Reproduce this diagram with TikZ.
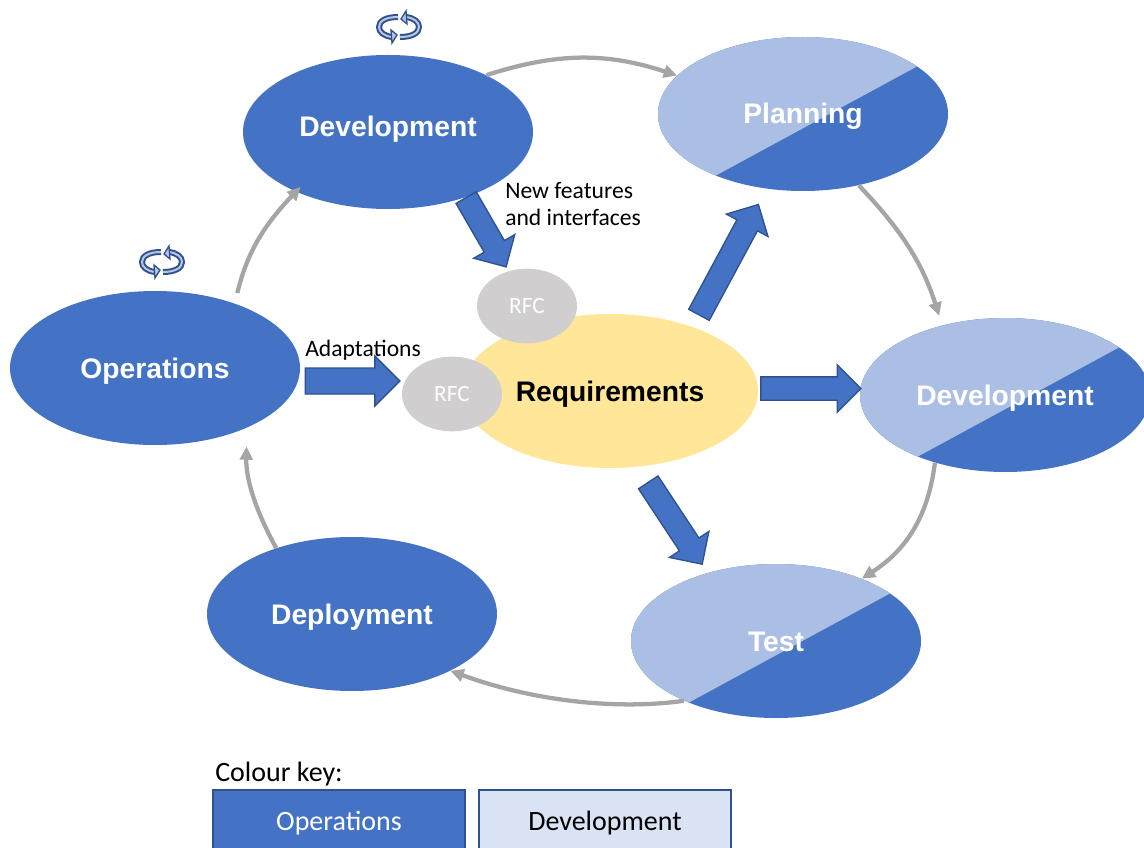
\documentclass[tikz,border=0pt]{standalone}
\usepackage{fontspec}
\setmainfont{Carlito}
\newfontfamily\labelfont{Liberation Sans}
\usetikzlibrary{arrows.meta,shapes.geometric,shapes.arrows}
\definecolor{opsblue}{HTML}{4472C4}
\definecolor{opsedge}{HTML}{2F528F}
\definecolor{devblue}{HTML}{ABBFE5}
\definecolor{keyblue}{HTML}{DAE3F3}
\definecolor{reqyellow}{HTML}{FFE699}
\definecolor{rfcgrey}{HTML}{D0CECE}
\definecolor{loopgrey}{HTML}{A5A5A5}
\tikzset{
	oval/.style={ellipse, fill=opsblue, inner sep=0, minimum width=217.5pt, minimum height=115.5pt, text=white, text height=15pt, text depth=0pt, font=\labelfont\bfseries\fontsize{21.2}{24}\selectfont},
	splitoval/.style={oval, path picture={
		\fill[devblue] ([shift={(-88,62)}]path picture bounding box.center) -- ([shift={(113,-47)}]path picture bounding box.center) -- ([shift={(160,-100)}]path picture bounding box.center) -- ([shift={(-160,-100)}]path picture bounding box.center) -- ([shift={(-160,62)}]path picture bounding box.center) -- cycle;
	}},
	rfc/.style={ellipse, fill=rfcgrey, inner sep=0, minimum width=75pt, minimum height=56pt, text=white, font=\fontsize{17.5}{20}\selectfont},
	blockarrow/.style={single arrow, fill=opsblue, draw=opsedge, line width=1pt, inner xsep=0, inner ysep=8.25pt, single arrow head extend=9pt},
	cyclearrow/.style={-{Triangle[length=10pt,width=9.5pt]}, draw=loopgrey, line width=3.2pt},
	note/.style={font=\fontsize{17.7}{20.5}\selectfont, inner sep=0},
	keybox/.style={rectangle, draw=opsedge, line width=1.5pt, minimum width=188.5pt, minimum height=49pt, inner sep=0, font=\fontsize{21}{24}\selectfont},
	cycleicon/.pic={
		\foreach \r in {0,180}{
			\begin{scope}[rotate=\r]
				\draw[opsedge, line width=4.5pt] (-1,-10) .. controls (-13,-10) and (-20,-6) .. (-20,0) .. controls (-20,5) and (-15,9) .. (-7,10);
				\draw[keyblue!80!opsedge, line width=1.5pt] (-1,-10) .. controls (-13,-10) and (-20,-6) .. (-20,0) .. controls (-20,5) and (-15,9) .. (-7,10);
				\fill[keyblue!80!opsedge, draw=opsedge, line width=1pt] (-8,3) -- (-2,8) -- (-7,16) -- cycle;
			\end{scope}
		}
	}
}

\begin{document}
\begin{tikzpicture}[x=0.75pt, y=-0.75pt]
	\useasboundingbox (0,0) rectangle (1144,848);
	\clip (0,0) rectangle (1144,848);

	%%%%% phases %%%%%
	\node[oval, label={[oval, fill=none, minimum size=0pt, yshift=3.75pt]center:Development}] (devtop) at (388,132) {};
	\node[splitoval] (planning) at (803,114) {Planning};
	\node[splitoval] (devright) at (1005,395) {Development};
	\node[splitoval] (test) at (776,641) {Test};
	\node[oval] (deployment) at (352,614) {Deployment};
	\node[oval] (operations) at (155,368) {Operations};

	%%%%% centre %%%%%
	\node[ellipse, fill=reqyellow, inner sep=0, minimum width=222pt, minimum height=115.5pt, text height=15pt, text depth=0pt, font=\labelfont\bfseries\fontsize{21.2}{24}\selectfont] (requirements) at (610,391) {Requirements};
	\node[rfc] (rfctop) at (527,306) {RFC};
	\node[rfc] (rfcleft) at (452,394) {RFC};

	%%%%% outer cycle %%%%%
	\draw[cyclearrow] (devtop.30.5) to[bend left=18] (planning.163);
	\draw[cyclearrow, shorten >=7.5pt] (planning.-52) to[bend left=13] (devright.132);
	\draw[cyclearrow] (devright.224) to[bend left=25] (test.36);
	\draw[cyclearrow] (test.213) to[out=188, in=-20, out looseness=0.7] (deployment.-30);
	\draw[cyclearrow, shorten >=14pt] (deployment.139) to[bend left=15] (operations.-33);
	\draw[cyclearrow, shorten <=8pt, shorten >=-5pt] (operations.39) to[bend left=15] (devtop.213);

	%%%%% block arrows %%%%%
	\node[blockarrow, inner ysep=9.25pt, minimum height=71pt] (adaptarrow) at (346,381) {};
	\node[blockarrow, minimum height=60pt, rotate=-60] (newarrow) at (483.2,227.2) {};
	\node[blockarrow, minimum height=94pt, rotate=61.7] (planarrow) at (725.9,264.8) {};
	\node[blockarrow, minimum height=75pt] (devarrow) at (805,388.5) {};
	\node[blockarrow, minimum height=73.5pt, rotate=-56.6] (testarrow) at (672,518.4) {};

	%%%%% labels %%%%%
	\node[note, align=left, anchor=north west] (newlabel) at (505,182) {New features\\and interfaces};
	\node[note, anchor=west] (adaptlabel) at (305,350) {Adaptations};
	\node[note, anchor=west, font=\fontsize{21}{24}\selectfont] (keylabel) at (215,774) {Colour key:};

	%%%%% key %%%%%
	\node[keybox, fill=opsblue, text=white] (keyops) at (339,823) {Operations};
	\node[keybox, fill=keyblue] (keydev) at (605,823) {Development};

	%%%%% rework marks %%%%%
	\pic at (399,27) {cycleicon};
	\pic at (162,262) {cycleicon};
\end{tikzpicture}
\end{document}
